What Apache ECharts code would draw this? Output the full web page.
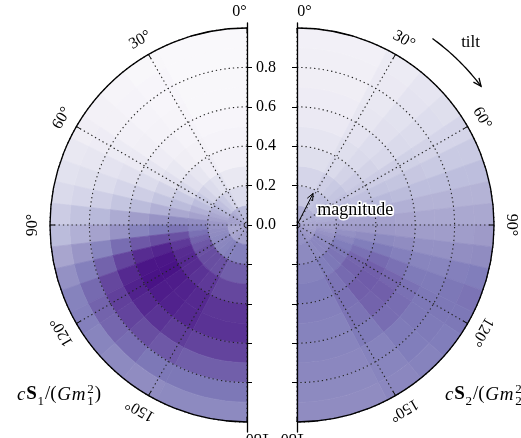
<!DOCTYPE html>
<html><head><meta charset="utf-8">
<script src="https://cdn.jsdelivr.net/npm/echarts@6/dist/echarts.min.js"></script>
<style>html,body{margin:0;padding:0;background:#fff}#c{width:521px;height:438px}</style>
</head><body><div id="c"></div>
<script>
// ---- data ----
const magnitudeEdges = [0, 0.1, 0.2, 0.3, 0.4, 0.5, 0.6, 0.7, 0.8, 0.9, 1.0];
// tilt bin edges (deg): equal steps in cos(tilt)
const tiltEdges = [0, 27.27, 38.94, 48.19, 56.25, 63.61, 70.53, 77.16, 83.62, 90,
                   96.38, 102.84, 109.47, 116.39, 123.75, 131.81, 141.06, 152.73, 180];
const radiusTicks = [0, 0.2, 0.4, 0.6, 0.8];
const radiusTicksAll = [-0.8, -0.6, -0.4, -0.2, 0, 0.2, 0.4, 0.6, 0.8];
const angleTicks = [0, 30, 60, 90, 120, 150, 180];
// density (Purples scale 0..1), rows = tilt bins, cols = magnitude bins
const s1Density = [
  [0.38,0.24,0.16,0.10,0.07,0.05,0.04,0.04,0.03,0.03],
  [0.40,0.28,0.20,0.13,0.09,0.07,0.06,0.05,0.05,0.04],
  [0.42,0.32,0.24,0.17,0.12,0.10,0.08,0.07,0.07,0.06],
  [0.44,0.36,0.28,0.21,0.16,0.13,0.11,0.10,0.09,0.09],
  [0.46,0.39,0.32,0.26,0.21,0.18,0.15,0.14,0.13,0.12],
  [0.47,0.42,0.37,0.32,0.28,0.24,0.21,0.19,0.17,0.16],
  [0.48,0.45,0.42,0.38,0.34,0.30,0.27,0.24,0.22,0.20],
  [0.48,0.48,0.47,0.45,0.42,0.38,0.34,0.30,0.27,0.25],
  [0.47,0.51,0.55,0.56,0.53,0.49,0.44,0.39,0.35,0.31],
  [0.46,0.53,0.61,0.65,0.63,0.59,0.53,0.47,0.42,0.38],
  [0.45,0.55,0.66,0.75,0.76,0.73,0.67,0.59,0.52,0.46],
  [0.45,0.56,0.70,0.82,0.88,0.86,0.79,0.70,0.61,0.54],
  [0.45,0.57,0.73,0.86,0.93,0.93,0.87,0.78,0.68,0.60],
  [0.46,0.58,0.75,0.87,0.94,0.94,0.89,0.80,0.70,0.61],
  [0.46,0.58,0.76,0.86,0.91,0.91,0.87,0.79,0.69,0.59],
  [0.47,0.59,0.76,0.84,0.89,0.89,0.84,0.76,0.67,0.57],
  [0.48,0.61,0.75,0.82,0.87,0.87,0.81,0.73,0.64,0.56],
  [0.48,0.61,0.71,0.78,0.83,0.84,0.79,0.71,0.64,0.57]
];
const s2Density = [
  [0.42,0.33,0.27,0.22,0.18,0.15,0.13,0.12,0.11,0.10],
  [0.42,0.35,0.30,0.25,0.22,0.19,0.17,0.16,0.15,0.14],
  [0.43,0.37,0.32,0.28,0.25,0.23,0.21,0.20,0.19,0.18],
  [0.43,0.38,0.34,0.31,0.28,0.26,0.25,0.24,0.23,0.22],
  [0.44,0.39,0.36,0.33,0.31,0.30,0.29,0.28,0.27,0.27],
  [0.44,0.41,0.38,0.36,0.35,0.34,0.33,0.32,0.32,0.32],
  [0.44,0.42,0.41,0.40,0.39,0.38,0.37,0.37,0.37,0.37],
  [0.45,0.44,0.44,0.43,0.43,0.42,0.41,0.41,0.41,0.41],
  [0.45,0.46,0.47,0.47,0.47,0.46,0.45,0.45,0.45,0.45],
  [0.46,0.48,0.50,0.51,0.51,0.50,0.49,0.49,0.49,0.50],
  [0.47,0.50,0.54,0.56,0.57,0.56,0.54,0.54,0.55,0.56],
  [0.48,0.53,0.58,0.62,0.63,0.61,0.59,0.59,0.61,0.62],
  [0.49,0.55,0.62,0.66,0.68,0.66,0.63,0.63,0.64,0.65],
  [0.50,0.57,0.64,0.69,0.71,0.69,0.66,0.64,0.64,0.64],
  [0.51,0.58,0.65,0.70,0.72,0.71,0.67,0.64,0.63,0.62],
  [0.52,0.58,0.64,0.68,0.71,0.70,0.67,0.63,0.62,0.60],
  [0.53,0.57,0.62,0.65,0.66,0.65,0.63,0.60,0.59,0.58],
  [0.54,0.57,0.60,0.62,0.61,0.60,0.59,0.58,0.57,0.56]
];
const purples = ['#fcfbfd','#efedf5','#dadaeb','#bcbddc','#9e9ac8','#807dba','#6a51a3','#54278f','#3f007d'];

// ---- build ----
function cells(dens) {
  const out = [];
  for (let i = 0; i < tiltEdges.length - 1; i++)
    for (let j = 0; j < magnitudeEdges.length - 1; j++)
      out.push([magnitudeEdges[j], magnitudeEdges[j+1], tiltEdges[i], tiltEdges[i+1], dens[i][j]]);
  return out;
}
function sectorItem(params, api) {
  const r0 = api.value(0), r1 = api.value(1), t0 = api.value(2), t1 = api.value(3);
  const c = api.coord([0, t0]);
  const pa = api.coord([r1, t0]), pb = api.coord([r1, t1]), pc = api.coord([r0, t0]);
  let a0 = Math.atan2(pa[1]-c[1], pa[0]-c[0]);
  let a1 = Math.atan2(pb[1]-c[1], pb[0]-c[0]);
  if (a1 - a0 > Math.PI) a1 -= 2*Math.PI; else if (a0 - a1 > Math.PI) a1 += 2*Math.PI;
  const R = Math.hypot(pa[0]-c[0], pa[1]-c[1]);
  const R0 = Math.hypot(pc[0]-c[0], pc[1]-c[1]);
  const col = api.visual('color');
  return {type:'sector', shape:{cx:c[0], cy:c[1], r0:R0, r:R,
    startAngle:Math.min(a0,a1), endAngle:Math.max(a0,a1), clockwise:true},
    style:{fill:col, stroke:col, lineWidth:0.7}};
}
const FONT = '"Liberation Serif", "DejaVu Serif", serif';
function angleLabelItem(dir) {
  return function(params, api) {
    const t = api.value(0);
    const nudge = (t === 0 || t === 180) ? 2 : 0;
    const p = api.coord([1.085, t + nudge]);
    return {type:'text', x:p[0], y:p[1], rotation: dir * t * Math.PI / 180,
      style:{text: t + '°', align:'center', verticalAlign:'middle',
        fontSize:16, fontFamily:FONT, fill:'#000'}};
  };
}
function arrowHead(tip, from, len, half) {
  const dx = tip[0]-from[0], dy = tip[1]-from[1], L = Math.hypot(dx,dy);
  const ux = dx/L, uy = dy/L;
  const bx = tip[0]-ux*len, by = tip[1]-uy*len;
  return [[bx - uy*half, by + ux*half], tip, [bx + uy*half, by - ux*half]];
}
function tiltArrowItem(params, api) {
  const pts = [];
  for (let a = 36; a <= 53.01; a += 0.5) pts.push(api.coord([1.17, a]));
  const tip = pts[pts.length-1], prev = pts[pts.length-3];
  const tp = api.coord([1.28, 43.5]);
  return {type:'group', children:[
    {type:'polyline', shape:{points:pts}, style:{stroke:'#000', lineWidth:1.3, fill:null}},
    {type:'polyline', shape:{points:arrowHead(tip, prev, 8, 3.5)}, style:{stroke:'#000', lineWidth:1.3, fill:null}},
    {type:'text', x:tp[0], y:tp[1], style:{text:'tilt', align:'center', verticalAlign:'middle', fontSize:17, fontFamily:FONT, fill:'#000'}}
  ]};
}
function magArrowItem(params, api) {
  const c = api.coord([0, 27]), tip = api.coord([0.18, 27]);
  const tp = api.coord([0.305, 76]);
  return {type:'group', children:[
    {type:'line', shape:{x1:c[0], y1:c[1], x2:tip[0], y2:tip[1]}, style:{stroke:'#000', lineWidth:1}},
    {type:'polyline', shape:{points:arrowHead(tip, c, 7, 3)}, style:{stroke:'#000', lineWidth:1, fill:null}},
    {type:'text', x:tp[0], y:tp[1], style:{text:'magnitude', align:'center', verticalAlign:'middle', fontSize:18, fontFamily:FONT, fill:'#000', stroke:'#fff', lineWidth:3}}
  ]};
}

// math label builder (measured text pieces)
const mctx = document.createElement('canvas').getContext('2d');
function mathLabel(x, y, idx) {
  const big = 19, small = 13;
  const parts = [
    {t:'c', st:'italic', s:big},
    {t:'S', wt:'bold', s:big},
    {t:String(idx), s:small, dy:4},
    {t:'/(', s:big},
    {t:'G', st:'italic', s:big},
    {t:'m', st:'italic', s:big},
    {stack:[{t:'2', dy:-8}, {t:String(idx), dy:4}], s:small},
    {t:')', s:big}
  ];
  const children = [];
  let cx = x;
  parts.forEach(p => {
    const st = p.st || 'normal', wt = p.wt || 'normal';
    mctx.font = st + ' ' + wt + ' ' + p.s + 'px ' + FONT;
    const base = {fontSize:p.s, fontFamily:FONT, fontStyle:st, fontWeight:wt, fill:'#000', verticalAlign:'bottom', align:'left'};
    if (p.stack) {
      let w = 0;
      p.stack.forEach(s => {
        children.push({type:'text', x:cx+1, y:y+s.dy, style:Object.assign({text:s.t}, base)});
        w = Math.max(w, mctx.measureText(s.t).width);
      });
      cx += w + 2;
    } else {
      children.push({type:'text', x:cx, y:y+(p.dy||0), style:Object.assign({text:p.t}, base)});
      cx += mctx.measureText(p.t).width + 0.8;
    }
  });
  return {type:'group', children};
}

const gridLine = {color:'#222', type:[1.3, 3], width:1.1};
function angleAxis(idx, endAngle, clockwise) {
  return {polarIndex:idx, type:'value', min:0, max:180, interval:30, startAngle:90, endAngle:endAngle,
    clockwise:clockwise, z:10,
    axisLine:{show:true, lineStyle:{color:'#000', width:1.3}},
    axisTick:{show:true, inside:true, length:5, lineStyle:{color:'#000', width:1}},
    axisLabel:{show:false},
    splitLine:{show:true, lineStyle:gridLine}};
}
function radiusAxis(idx) {
  return {polarIndex:idx, type:'value', min:0, max:1, interval:0.2, z:10,
    axisLine:{show:false}, axisTick:{show:false}, axisLabel:{show:false},
    splitLine:{show:true, lineStyle:gridLine}};
}
function spineAxis(idx, pos, labels) {
  return {gridIndex:idx, type:'value', position:pos, min:-1.05, max:1.025, z:11,
    axisLine:{show:true, onZero:false, lineStyle:{color:'#000', width:1.3}},
    axisTick:{show:true, length:5, customValues:radiusTicksAll, lineStyle:{color:'#000', width:1}},
    axisLabel:{show:labels, customValues:radiusTicks, margin:9, fontSize:16, fontFamily:FONT, color:'#000',
      formatter: v => v.toFixed(1)},
    splitLine:{show:false}};
}

const chart = echarts.init(document.getElementById('c'), null, {renderer:'canvas'});
chart.setOption({
  animation:false,
  backgroundColor:'#fff',
  polar:[{center:[247, 225], radius:197}, {center:[297, 225], radius:197}],
  angleAxis:[angleAxis(0, 270, false), angleAxis(1, -90, true)],
  radiusAxis:[radiusAxis(0), radiusAxis(1)],
  grid:[{left:147, top:23, width:100, height:409}, {left:297, top:23, width:100, height:409}],
  xAxis:[{gridIndex:0, type:'value', show:false, min:0, max:1}, {gridIndex:1, type:'value', show:false, min:0, max:1}],
  yAxis:[spineAxis(0, 'right', true), spineAxis(1, 'left', false)],
  visualMap:{type:'continuous', show:false, min:0, max:1, dimension:4, seriesIndex:[0,1],
    inRange:{color:purples}},
  graphic:[mathLabel(17, 404, 1), mathLabel(445, 404, 2)],
  series:[
    {type:'custom', coordinateSystem:'polar', polarIndex:0, renderItem:sectorItem, data:cells(s1Density), z:2, silent:true},
    {type:'custom', coordinateSystem:'polar', polarIndex:1, renderItem:sectorItem, data:cells(s2Density), z:2, silent:true},
    {type:'custom', coordinateSystem:'polar', polarIndex:0, renderItem:angleLabelItem(1), data:angleTicks.map(a=>[a]), z:12, silent:true},
    {type:'custom', coordinateSystem:'polar', polarIndex:1, renderItem:angleLabelItem(-1), data:angleTicks.map(a=>[a]), z:12, silent:true},
    {type:'custom', coordinateSystem:'polar', polarIndex:1, renderItem:tiltArrowItem, data:[[0]], z:12, silent:true},
    {type:'custom', coordinateSystem:'polar', polarIndex:1, renderItem:magArrowItem, data:[[0]], z:12, silent:true}
  ]
});
</script></body></html>
